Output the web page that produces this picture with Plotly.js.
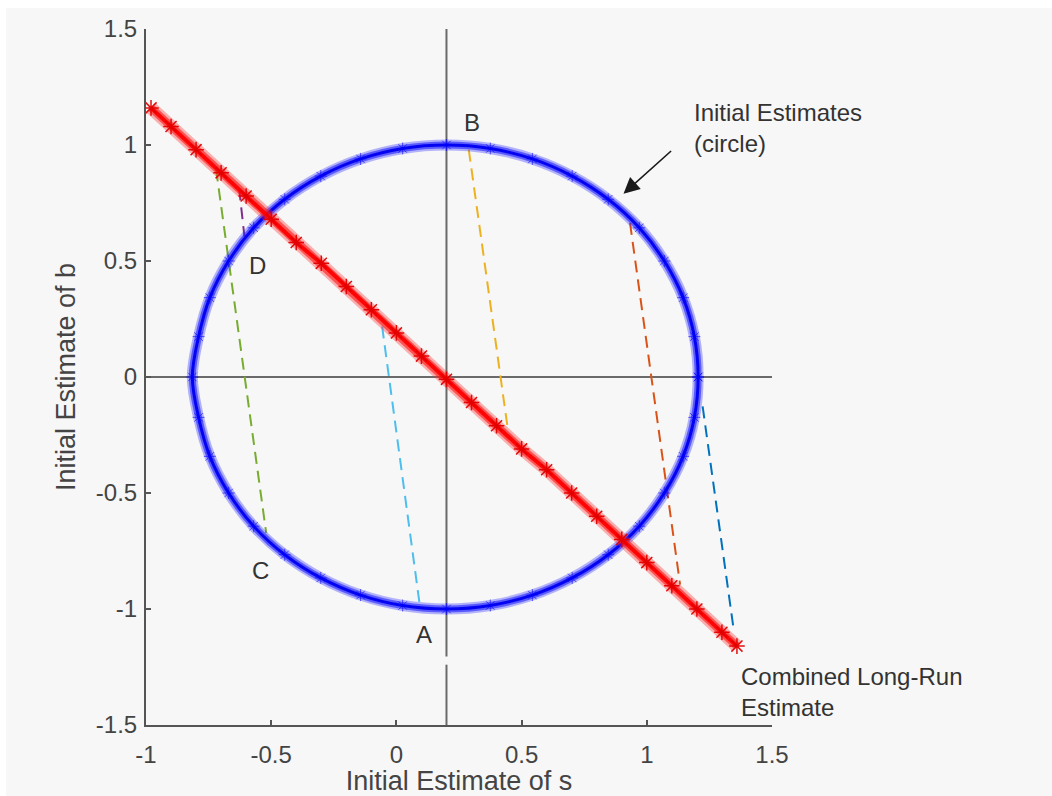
<!DOCTYPE html>
<html>
<head>
<meta charset="utf-8">
<script src="https://cdn.plot.ly/plotly-3.0.1.min.js"></script>
<style>
  html, body { margin: 0; padding: 0; background: #ffffff; }
  #chart { position: absolute; left: 6px; top: 8px; width: 1046px; height: 788px; }
</style>
</head>
<body>
<div id="chart"></div>
<script>
// ---- data ----
// Initial estimates (circle of points)
const circleX = [1.205, 1.19, 1.145, 1.07, 0.97, 0.846, 0.702, 0.543, 0.375, 0.20, 0.025, -0.143, -0.302, -0.446, -0.57, -0.67, -0.745, -0.79, -0.815,
                 -0.79, -0.745, -0.67, -0.57, -0.446, -0.302, -0.143, 0.025, 0.20, 0.375, 0.543, 0.702, 0.846, 0.97, 1.07, 1.145, 1.19, 1.205];
const circleY = [0.00, 0.174, 0.342, 0.50, 0.643, 0.766, 0.866, 0.94, 0.985, 1.00, 0.985, 0.94, 0.866, 0.766, 0.643, 0.50, 0.342, 0.174, 0.00,
                 -0.174, -0.342, -0.50, -0.643, -0.766, -0.866, -0.94, -0.985, -1.00, -0.985, -0.94, -0.866, -0.766, -0.643, -0.50, -0.342, -0.174, 0.00];

// Combined long-run estimate (line of points)
const lineX = [-0.98, -0.9, -0.8, -0.7, -0.6, -0.5, -0.4, -0.3, -0.2, -0.1, 0.0, 0.1, 0.2, 0.3, 0.4, 0.5, 0.6, 0.7, 0.8, 0.9, 1.0, 1.1, 1.2, 1.3, 1.36];
const lineY = [1.16, 1.08, 0.98, 0.88, 0.78, 0.68, 0.58, 0.49, 0.39, 0.29, 0.19, 0.09, -0.01, -0.11, -0.21, -0.31, -0.40, -0.50, -0.60, -0.70, -0.80, -0.90, -1.00, -1.10, -1.16];

// Reference cross lines
const vLineX = [0.2, 0.2, null, 0.2, 0.2];
const vLineY = [1.5, -1.205, null, -1.24, -1.5];
const hLineX = [-1, 1.5];
const hLineY = [0, 0];

// Dashed connectors: [x start, x end], [y start, y end]
const connNames = ['green', 'purple', 'lightblue', 'yellow', 'orange', 'blue'];
const connX = [[-0.72, -0.52], [-0.628, -0.607], [-0.057, 0.093], [0.289, 0.445], [0.933, 1.133], [1.223, 1.347]];
const connY = [[0.894, -0.672], [0.813, 0.606], [0.218, -0.981], [0.98, -0.225], [0.664, -0.895], [-0.127, -1.089]];
const connColors = ['#77AC30', '#7E2F8E', '#4DBEEE', '#EDB120', '#D95319', '#0072BD'];

// Point labels
const labelText = ['A', 'B', 'C', 'D'];
const labelX = [0.109, 0.302, -0.541, -0.555];
const labelY = [-1.112, 1.097, -0.835, 0.481];

// Axes
const xTicks = [-1, -0.5, 0, 0.5, 1, 1.5];
const xTickText = ['-1', '-0.5', '0', '0.5', '1', '1.5'];
const yTicks = [-1.5, -1, -0.5, 0, 0.5, 1, 1.5];
const yTickText = ['-1.5', '-1', '-0.5', '0', '0.5', '1', '1.5'];

// Callouts
const circleNote = {text: 'Initial Estimates<br>(circle)', x: 1.18, y: 1.205, headX: 0.907, headY: 0.79, tailX: 1.103, tailY: 0.98};
const lineNote = {text: 'Combined Long-Run<br>Estimate', x: 1.37, y: -1.225};

// ---- traces ----
const traces = [];
traces.push({x: hLineX, y: hLineY, mode: 'lines', line: {color: '#6a6a6a', width: 2}, hoverinfo: 'skip'});
traces.push({x: vLineX, y: vLineY, mode: 'lines', line: {color: '#6a6a6a', width: 2}, hoverinfo: 'skip', connectgaps: false});

for (let i = 0; i < connX.length; i++) {
  traces.push({x: connX[i], y: connY[i], mode: 'lines', name: connNames[i],
    line: {color: connColors[i], width: 2, dash: '12px,7px'}, hoverinfo: 'skip'});
}

// circle band
traces.push({x: circleX, y: circleY, mode: 'lines', line: {color: 'rgba(50,50,255,0.35)', width: 11, shape: 'spline'}, hoverinfo: 'skip'});
traces.push({x: circleX, y: circleY, mode: 'lines', line: {color: 'rgba(20,20,255,0.55)', width: 7, shape: 'spline'}, hoverinfo: 'skip'});
traces.push({x: circleX, y: circleY, mode: 'lines', line: {color: 'rgba(0,0,240,0.95)', width: 3, shape: 'spline'}, hoverinfo: 'skip'});
traces.push({x: circleX, y: circleY, mode: 'markers', marker: {symbol: 'asterisk-open', size: 10, color: 'rgba(0,0,255,0.6)', line: {width: 1}}, hoverinfo: 'skip'});

// red band
traces.push({x: lineX, y: lineY, mode: 'lines', line: {color: 'rgba(255,40,40,0.35)', width: 13}, hoverinfo: 'skip'});
traces.push({x: lineX, y: lineY, mode: 'lines', line: {color: 'rgba(255,20,20,0.6)', width: 8}, hoverinfo: 'skip'});
traces.push({x: lineX, y: lineY, mode: 'lines', line: {color: 'rgba(255,0,0,0.95)', width: 4}, hoverinfo: 'skip'});
traces.push({x: lineX, y: lineY, mode: 'markers', marker: {symbol: 'asterisk-open', size: 13, color: 'rgba(225,0,0,0.95)', line: {width: 1.5}}, hoverinfo: 'skip'});

// ---- annotations ----
const font = 'Liberation Sans, Arial, sans-serif';
const annotations = labelText.map((t, i) => ({
  x: labelX[i], y: labelY[i], xref: 'x', yref: 'y', text: t, showarrow: false,
  font: {family: font, size: 24, color: '#333333'}
}));
annotations.push({
  x: circleNote.headX, y: circleNote.headY, ax: circleNote.tailX, ay: circleNote.tailY,
  xref: 'x', yref: 'y', axref: 'x', ayref: 'y', text: '', showarrow: true,
  arrowhead: 2, arrowsize: 2, arrowwidth: 1.6, arrowcolor: '#1a1a1a'
});
annotations.push({
  x: circleNote.x, y: circleNote.y, xref: 'x', yref: 'y', text: circleNote.text, showarrow: false,
  xanchor: 'left', yanchor: 'top', align: 'left', font: {family: font, size: 24, color: '#333333'}
});
annotations.push({
  x: lineNote.x, y: lineNote.y, xref: 'x', yref: 'y', text: lineNote.text, showarrow: false,
  xanchor: 'left', yanchor: 'top', align: 'left', font: {family: font, size: 24, color: '#333333'}
});

const layout = {
  width: 1046, height: 788,
  margin: {l: 140, r: 280, t: 21, b: 71, pad: 0},
  paper_bgcolor: '#f7f7f7', plot_bgcolor: '#f7f7f7',
  showlegend: false,
  xaxis: {
    range: [-1, 1.5], tickvals: xTicks, ticktext: xTickText,
    showgrid: false, zeroline: false, showline: true, linecolor: '#555555', linewidth: 2,
    ticks: 'inside', ticklen: 5, tickwidth: 2, tickcolor: '#555555',
    tickfont: {family: font, size: 24, color: '#444444'},
    ticklabelstandoff: 7,
    title: {text: 'Initial Estimate of s', font: {family: font, size: 27, color: '#444444'}, standoff: 2}
  },
  yaxis: {
    range: [-1.5, 1.5], tickvals: yTicks, ticktext: yTickText,
    showgrid: false, zeroline: false, showline: true, linecolor: '#555555', linewidth: 2,
    ticks: 'inside', ticklen: 5, tickwidth: 2, tickcolor: '#555555',
    tickfont: {family: font, size: 24, color: '#444444'},
    ticklabelstandoff: 2,
    title: {text: 'Initial Estimate of b', font: {family: font, size: 27, color: '#444444'}, standoff: 12}
  },
  annotations: annotations
};

Plotly.newPlot('chart', traces, layout, {displayModeBar: false, staticPlot: true});
</script>
</body>
</html>
